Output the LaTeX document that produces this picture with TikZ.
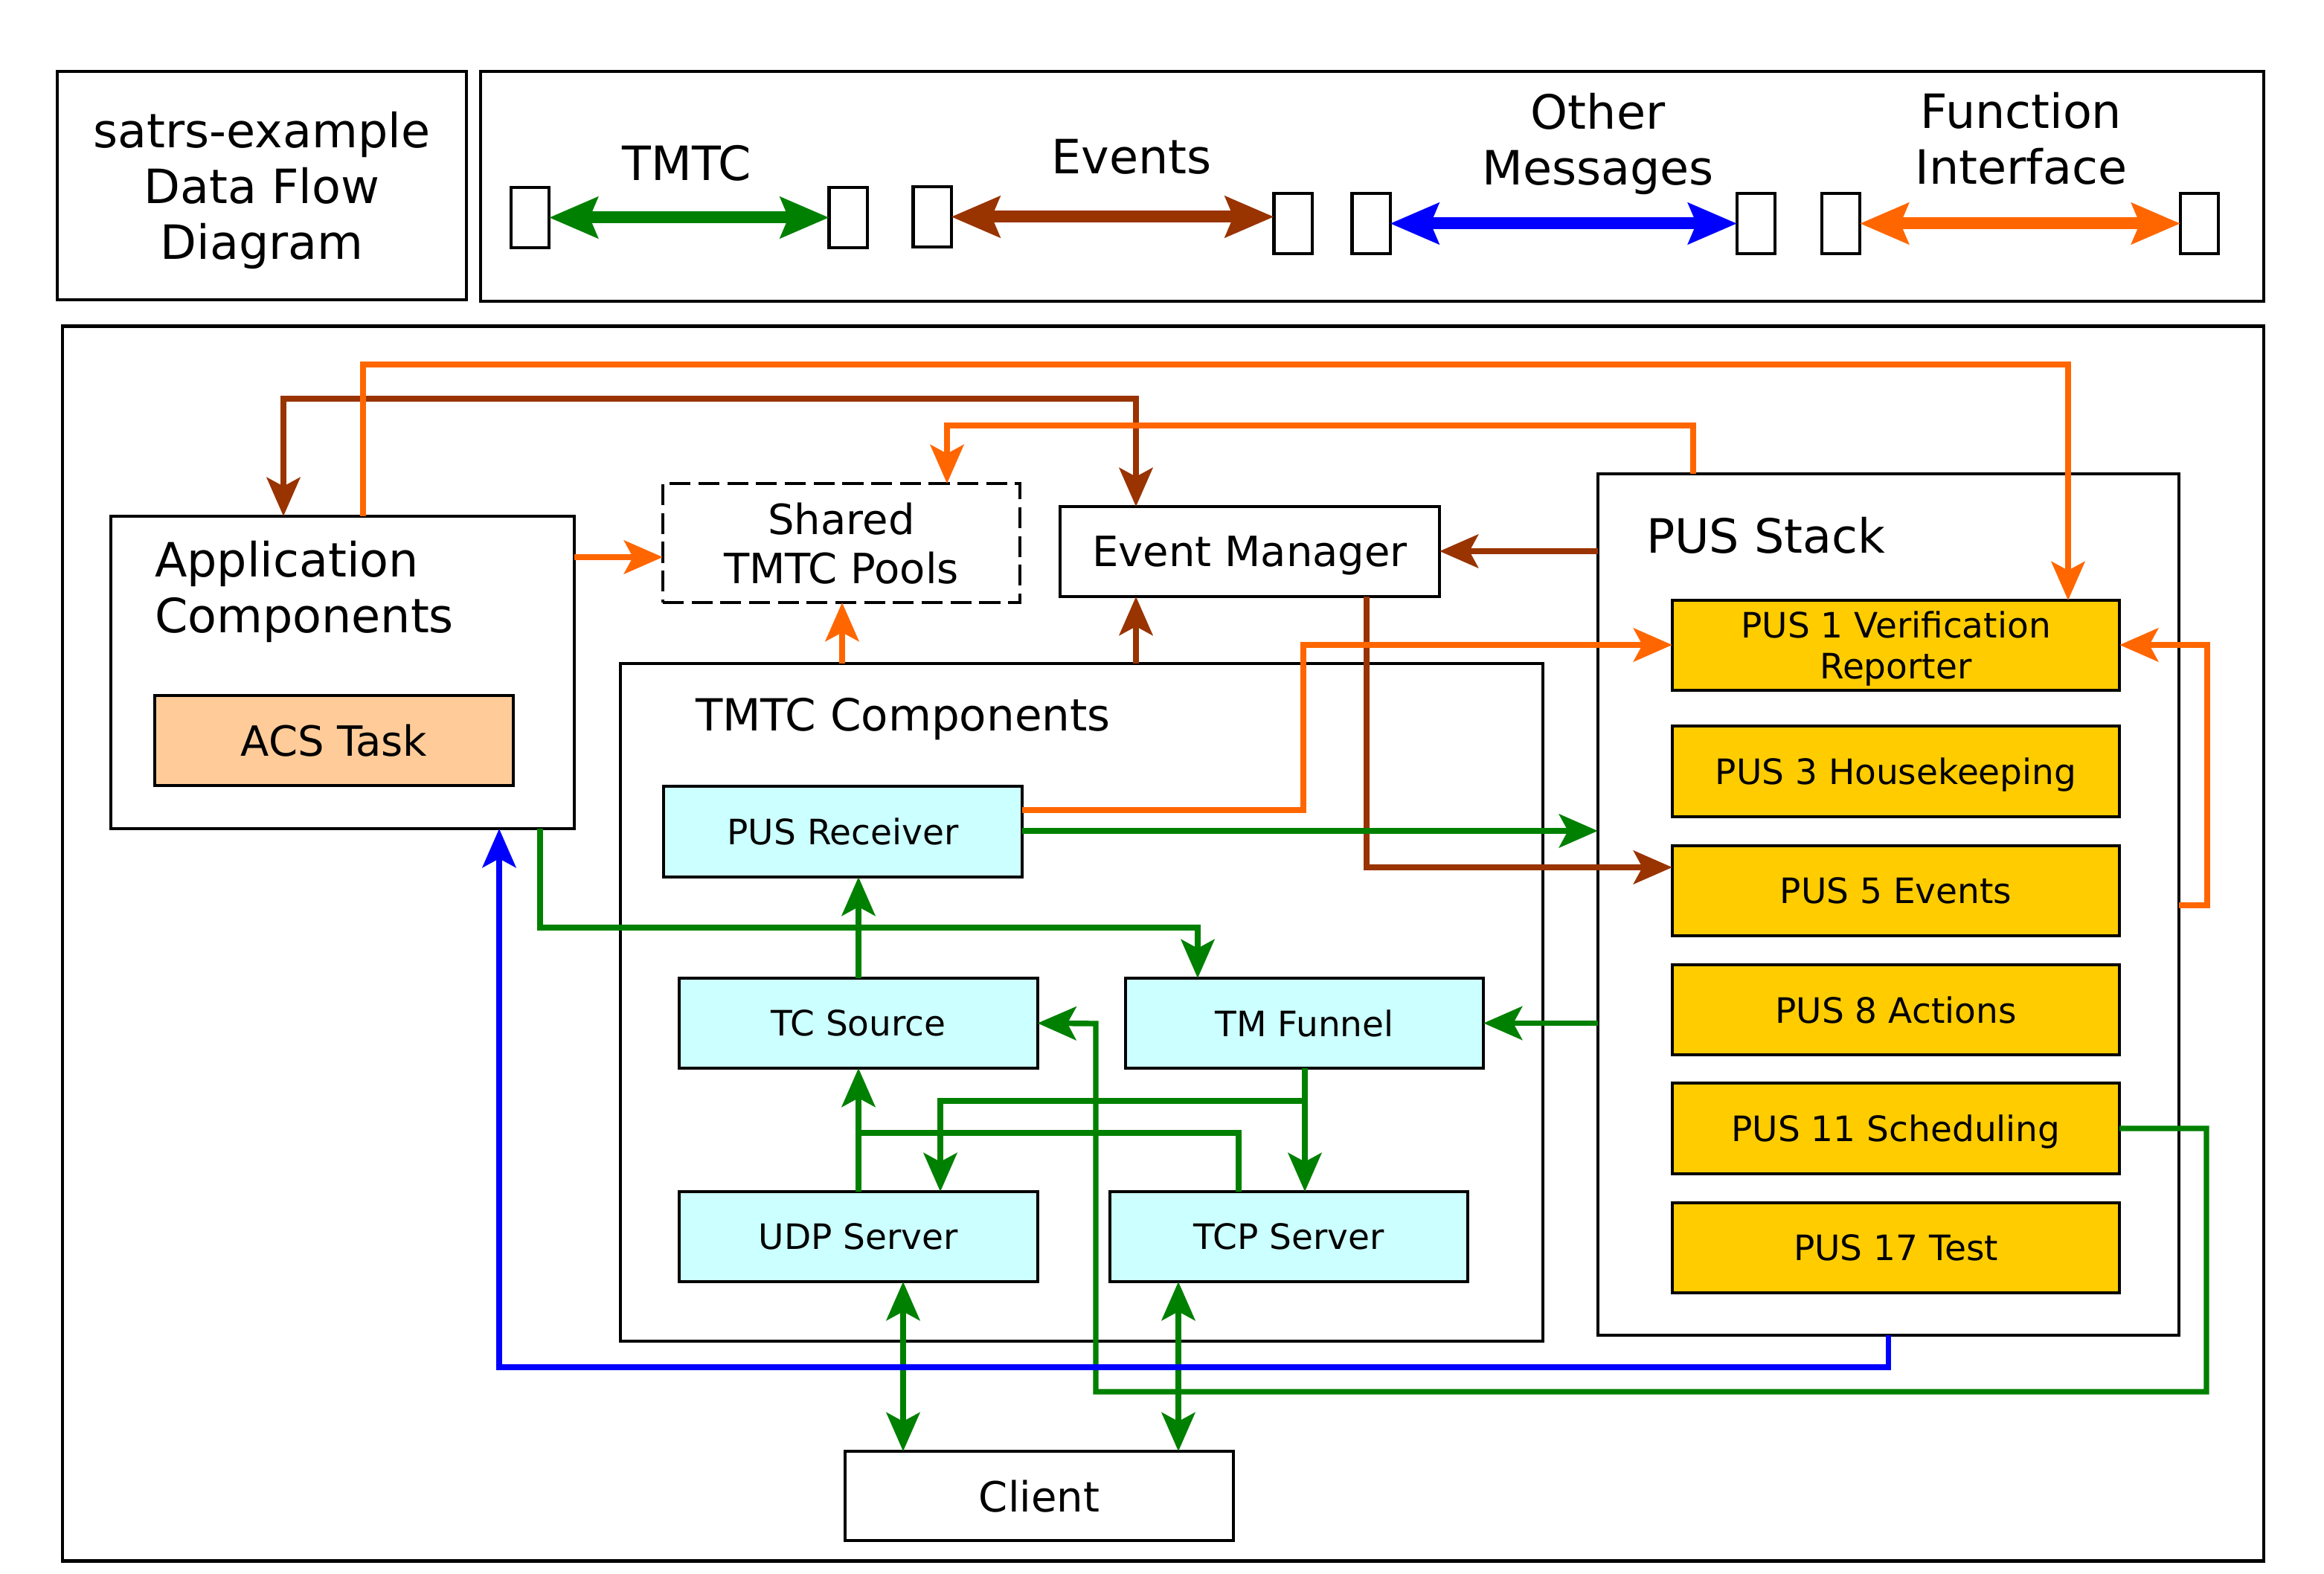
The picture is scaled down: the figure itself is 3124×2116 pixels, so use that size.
\documentclass[tikz,border=0pt]{standalone}
\usepackage{fontspec}
\setmainfont{DejaVu Sans}
\usetikzlibrary{arrows.meta}
\definecolor{cgreen}{HTML}{008000}
\definecolor{cbrown}{HTML}{993300}
\definecolor{corange}{HTML}{FF6600}
\definecolor{cblue}{HTML}{0000FF}
\definecolor{ccyan}{HTML}{CCFFFF}
\definecolor{cyellow}{HTML}{FFCC00}
\definecolor{cpeach}{HTML}{FFCC99}
\newcommand\fbig{\fontsize{18.07pt}{21.34pt}\selectfont}
\newcommand\fttl{\fontsize{16.93pt}{19.9pt}\selectfont}
\newcommand\fmid{\fontsize{15.93pt}{18.78pt}\selectfont}
\newcommand\fsml{\fontsize{13.37pt}{15.65pt}\selectfont}
\tikzset{
  box/.style={draw, line width=1.15pt, inner sep=0pt, outer sep=0pt, text depth=0pt, align=center},
  sq/.style={box, minimum width=0.51cm, minimum height=0.81cm},
  lbl/.style={inner sep=0pt, outer sep=0pt, font=\fbig},
  cbox/.style={box, fill=ccyan, font=\fsml, minimum width=4.81cm, minimum height=1.21cm},
  pbox/.style={box, fill=cyellow, font=\fsml, minimum width=6.01cm, minimum height=1.21cm},
  conn/.style={line width=2.1pt, -{Stealth[length=14.8pt,width=12.8pt,inset=3.4pt]}},
  dconn/.style={line width=2.1pt, {Stealth[length=14.8pt,width=12.8pt,inset=3.4pt]}-{Stealth[length=14.8pt,width=12.8pt,inset=3.4pt]}},
  plainconn/.style={line width=2.1pt},
  legarrow/.style={line width=4.55pt, {Stealth[length=18.5pt,width=15.4pt,inset=3pt]}-{Stealth[length=18.5pt,width=15.4pt,inset=3pt]}}
}
\begin{document}
\begin{tikzpicture}[x=0.01cm,y=-0.01cm,line join=miter]
\useasboundingbox (0,0) rectangle (3124,2116);
% ---------- header ----------
\node[box,font=\fbig,minimum width=5.5cm,minimum height=3.07cm] (title) at (352,249.5) {satrs-example\\Data Flow\\Diagram};
\node[box,minimum width=23.95cm,minimum height=3.09cm] (legend) at (1844.5,250.5) {};
\node[sq] (s1) at (712.5,292.5) {};
\node[sq] (s2) at (1140,292.5) {};
\node[sq] (s3) at (1253,291.5) {};
\node[sq] (s4) at (1738,300.5) {};
\node[sq] (s5) at (1843,300.5) {};
\node[sq] (s6) at (2360.5,300.5) {};
\node[sq] (s7) at (2474.5,300.5) {};
\node[sq] (s8) at (2956.5,300.5) {};
\node[lbl,anchor=base] (ltmtc) at (923,243) {TMTC};
\node[lbl,anchor=base] (levents) at (1521,234) {Events};
\node[lbl,align=center] (lother) at (2148,193) {Other\\Messages};
\node[lbl,align=center] (lfunc) at (2717,186) {Function\\Interface};
\draw[legarrow,cgreen] (s1.east) -- (s2.west);
\draw[legarrow,cbrown] (s3.east) -- (s4.west |- s3.east);
\draw[legarrow,cblue] (s5.east) -- (s6.west);
\draw[legarrow,corange] (s7.east) -- (s8.west);
% ---------- main frame ----------
\node[box,minimum width=29.57cm,minimum height=16.59cm] (main) at (1563.5,1268.5) {};
% application components
\node[box,minimum width=6.23cm,minimum height=4.2cm] (app) at (460.5,904) {};
\node[lbl,align=left,anchor=west] (apptitle) at (208,795) {Application\\Components};
\node[box,fill=cpeach,font=\fmid,minimum width=4.82cm,minimum height=1.21cm] (acs) at (449,995.5) {ACS Task};
% pools, event manager
\node[box,dash pattern=on 8pt off 3pt,font=\fmid,minimum width=4.8cm,minimum height=1.6cm] (pools) at (1131,730) {Shared\\TMTC Pools};
\node[box,font=\fmid,minimum width=5.1cm,minimum height=1.21cm] (em) at (1680,741.5) {Event Manager};
% TMTC components
\node[box,minimum width=12.4cm,minimum height=9.11cm] (tmtc) at (1454,1347.5) {};
\node[lbl,font=\fttl,anchor=base west] (tmtctitle) at (935,982) {TMTC Components};
\node[cbox,minimum width=4.82cm,minimum height=1.22cm] (pusrx) at (1133,1118) {PUS Receiver};
\node[cbox] (tcs) at (1154,1375.5) {TC Source};
\node[cbox] (tmf) at (1753.5,1375.5) {TM Funnel};
\node[cbox] (udp) at (1154,1662.5) {UDP Server};
\node[cbox] (tcp) at (1732.5,1662.5) {TCP Server};
\node[box,font=\fmid,minimum width=5.22cm,minimum height=1.2cm] (client) at (1397,2011) {Client};
% PUS stack
\node[box,minimum width=7.81cm,minimum height=11.58cm] (pusstack) at (2538.5,1216) {};
\node[lbl,anchor=base west] (pustitle) at (2213,744) {PUS Stack};
\node[pbox] (pus1) at (2548.5,867.5) {PUS 1 Verification\\Reporter};
\node[pbox] (pus3) at (2548.5,1037) {PUS 3 Housekeeping};
\node[pbox] (pus5) at (2548.5,1197.5) {PUS 5 Events};
\node[pbox] (pus8) at (2548.5,1357.5) {PUS 8 Actions};
\node[pbox] (pus11) at (2548.5,1517) {PUS 11 Scheduling};
\node[pbox] (pus17) at (2548.5,1677.5) {PUS 17 Test};
% ---------- connectors ----------
% events (brown)
\draw[dconn,cbrown] (381,0 |- app.north) |- (1527,536) -- (1527,0 |- em.north);
\draw[conn,cbrown] (1527,0 |- tmtc.north) -- (1527,0 |- em.south);
\draw[conn,cbrown] (pusstack.west |- 0,741) -- (em.east |- 0,741);
\draw[conn,cbrown] (1837,0 |- em.south) |- (pus5.west |- 0,1166);
% function interface (orange)
\draw[conn,corange] (488,0 |- app.north) |- (2780,490) -- (2780,0 |- pus1.north);
\draw[conn,corange] (2276,0 |- pusstack.north) |- (1273,572) -- (1273,0 |- pools.north);
\draw[conn,corange] (app.east |- 0,749) -- (pools.west |- 0,749);
\draw[conn,corange] (1132,0 |- tmtc.north) -- (1132,0 |- pools.south);
\draw[conn,corange] (pusrx.east |- 0,1089) -| (1752,867) -- (pus1.west |- 0,867);
\draw[conn,corange] (pusstack.east |- 0,1217) -| (2967,867) -- (pus1.east |- 0,867);
% TMTC (green)
\draw[conn,cgreen] (pusrx.east |- 0,1117) -- (pusstack.west |- 0,1117);
\draw[conn,cgreen] (726,0 |- app.south) |- (1610,1247) -- (1610,0 |- tmf.north);
\draw[conn,cgreen] (tcs.north) -- (1154,0 |- pusrx.south);
\draw[conn,cgreen] (pusstack.west |- tmf.east) -- (tmf.east);
\draw[conn,cgreen] (pus11.east) -| (2966,1871) -| (1473,1376) -- (tcs.east);
\draw[conn,cgreen] (1754,0 |- tmf.south) -- (1754,0 |- tcp.north);
\draw[conn,cgreen] (1754,0 |- tmf.south) |- (1264,1480) -- (1264,0 |- udp.north);
\draw[conn,cgreen] (udp.north) -- (tcs.south);
\draw[plainconn,cgreen] (1665,0 |- tcp.north) |- (1154,1523);
\draw[dconn,cgreen] (1214,0 |- udp.south) -- (1214,0 |- client.north);
\draw[dconn,cgreen] (1584,0 |- tcp.south) -- (1584,0 |- client.north);
% other messages (blue)
\draw[conn,cblue] (pusstack.south) |- (671,1838) -- (671,0 |- app.south);
\end{tikzpicture}
\end{document}
